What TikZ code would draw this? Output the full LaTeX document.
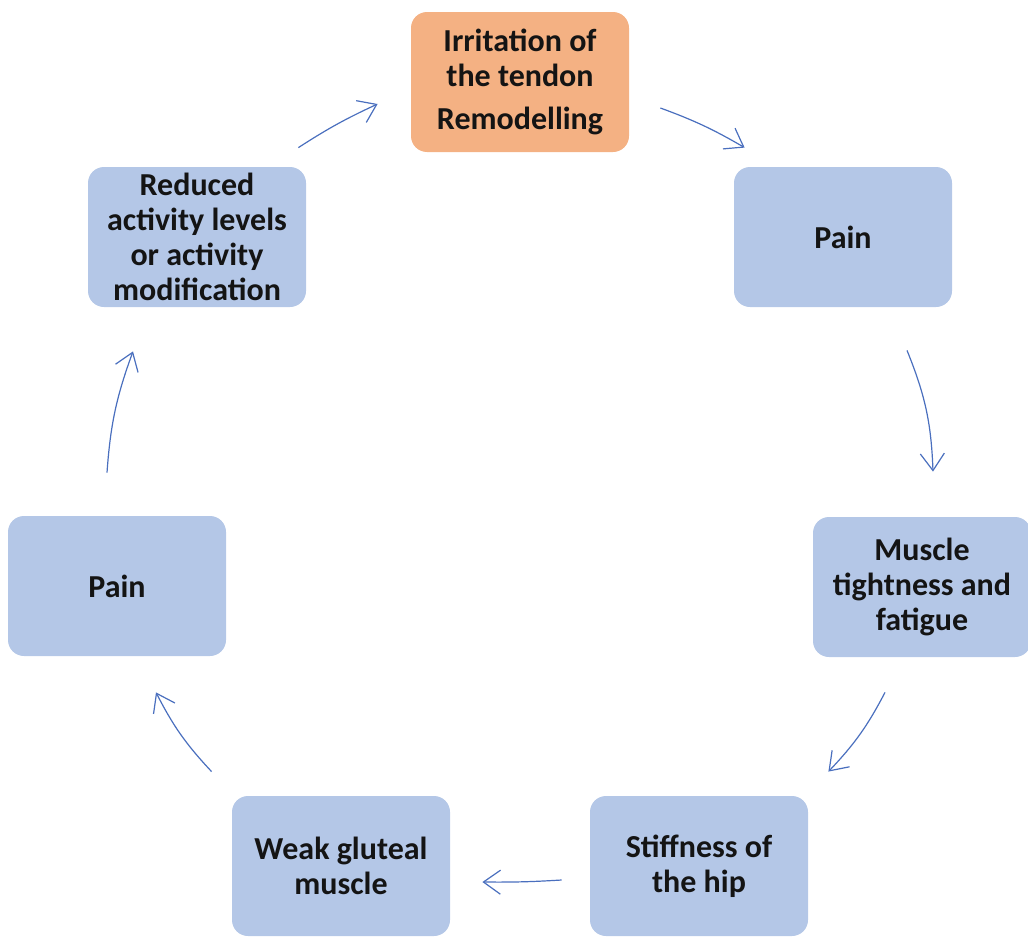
\documentclass[tikz,border=0pt]{standalone}
\usepackage{fontspec}
\setmainfont{Carlito}
\usepackage{tikz}
\usetikzlibrary{arrows.meta,positioning}
\definecolor{boxblue}{HTML}{B4C7E7}
\definecolor{boxorange}{HTML}{F4B183}
\definecolor{arrowblue}{HTML}{4A6FBE}

\begin{document}
\begin{tikzpicture}[
  x=0.5pt, y=-0.5pt,
  font=\fontsize{16}{17.5}\selectfont\bfseries, every node/.style={align=center},
  st/.style={fill=boxblue, rounded corners=8pt, minimum width=109pt,
             minimum height=70pt, inner sep=2pt, text=black!92},
  hub/.style={st, fill=boxorange},
  e/.style={-{Straight Barb[length=8.5pt,width=12pt]}, draw=arrowblue,
            line width=0.6pt},
]
\useasboundingbox (0,0) rectangle (1028,937);
\node[hub] (irr) at (520,82) {Irritation of\\the tendon\\[4pt]Remodelling};
\node[st] (pain1) at (843,237) {Pain};
\node[st] (tight) at (922,587) {Muscle\\tightness and\\fatigue};
\node[st] (stiff) at (699,866) {Stiffness of\\the hip};
\node[st] (weak) at (341,866) {Weak gluteal\\muscle};
\node[st] (pain2) at (117,586) {Pain};
\node[st] (act) at (197,237) {Reduced\\activity levels\\or activity\\modification};
\draw[e] ([shift={(31,26)}]irr.east) to[bend left=5] ([shift={(11,-19)}]pain1.north west);
\draw[e] ([shift={(64,43)}]pain1.south) to[bend left=10] ([shift={(11,-45)}]tight.north);
\draw[e] ([shift={(-37,35)}]tight.south) to[bend left=8] ([shift={(20,-24)}]stiff.north east);
\draw[e] ([shift={(-28,14)}]stiff.west) to[bend left=2] ([shift={(32,16)}]weak.east);
\draw[e] ([shift={(-20,-24)}]weak.north west) to[bend left=8] ([shift={(39,36)}]pain2.south);
\draw[e] ([shift={(-10,-43)}]pain2.north) to[bend left=8] ([shift={(-64,44)}]act.south);
\draw[e] ([shift={(-8,-19)}]act.north east) to[bend left=4] ([shift={(-33,22)}]irr.west);
\end{tikzpicture}
\end{document}
